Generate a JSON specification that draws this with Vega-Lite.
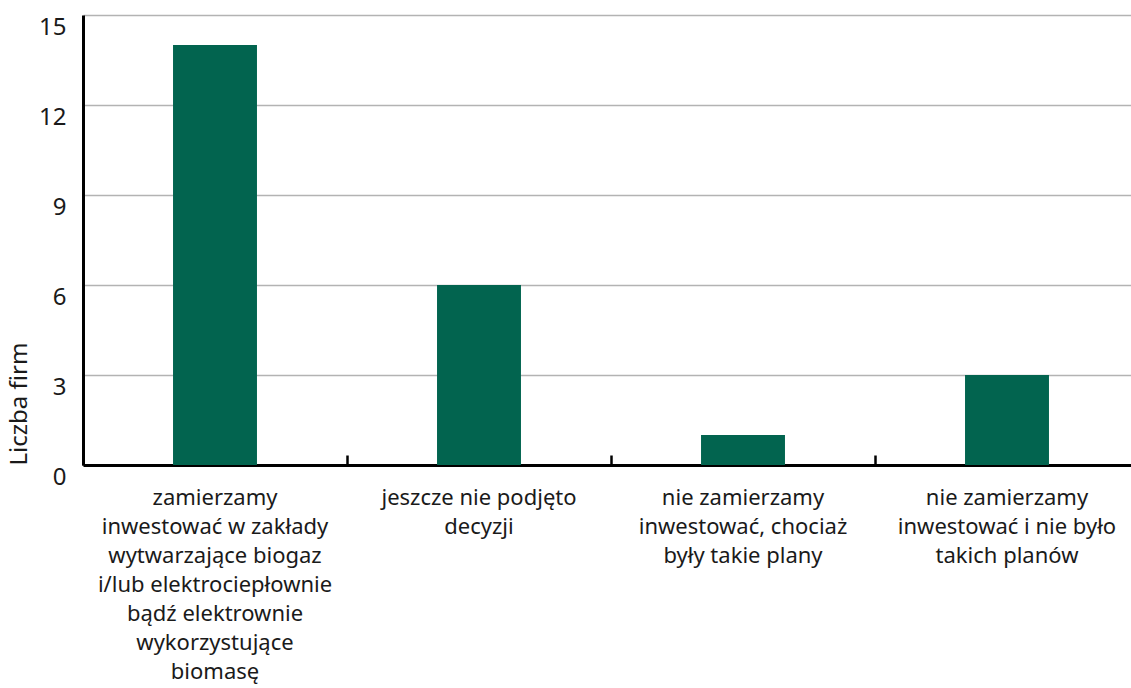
{
  "$schema": "https://vega.github.io/schema/vega-lite/v6.json",
  "width": 1048,
  "height": 450,
  "autosize": {"type": "none"},
  "padding": {"left": 83, "top": 15, "right": 0, "bottom": 223},
  "background": "white",
  "config": {
    "view": {"stroke": null},
    "font": "Noto Sans"
  },
  "data": {
    "values": [
      {"kategoria": "zamierzamy|inwestować w zakłady|wytwarzające biogaz|i/lub elektrociepłownie|bądź elektrownie|wykorzystujące|biomasę", "liczba": 14},
      {"kategoria": "jeszcze nie podjęto|decyzji", "liczba": 6},
      {"kategoria": "nie zamierzamy|inwestować, chociaż|były takie plany", "liczba": 1},
      {"kategoria": "nie zamierzamy|inwestować i nie było|takich planów", "liczba": 3}
    ]
  },
  "mark": {"type": "bar", "color": "#02644F", "width": {"band": 0.318}},
  "encoding": {
    "x": {
      "field": "kategoria",
      "type": "nominal",
      "sort": null,
      "scale": {"range": [0, 1056], "paddingInner": 0, "paddingOuter": 0},
      "axis": {
        "title": null,
        "bandPosition": 0,
        "labelAngle": 0,
        "labelExpr": "split(datum.label, '|')",
        "labelFontSize": 22,
        "labelColor": "#1a1a1a",
        "labelLineHeight": 29,
        "labelBaseline": "top",
        "labelPadding": 32,
        "labelLimit": 400,
        "domainColor": "black",
        "domainWidth": 3,
        "ticks": true,
        "tickSize": -10,
        "tickWidth": 2.5,
        "tickColor": "black",
        "grid": false
      }
    },
    "y": {
      "field": "liczba",
      "type": "quantitative",
      "scale": {"domain": [0, 15], "nice": false},
      "axis": {
        "title": "Liczba firm",
        "titleFontSize": 24,
        "titleFontWeight": "normal",
        "titleColor": "#1a1a1a",
        "titleAnchor": "start",
        "titlePadding": 7,
        "values": [0, 3, 6, 9, 12, 15],
        "labelFontSize": 24,
        "labelColor": "#1a1a1a",
        "labelBaseline": "top",
        "labelPadding": 17,
        "ticks": false,
        "domainColor": "black",
        "domainWidth": 3,
        "grid": true,
        "gridColor": "#b3b3b3",
        "gridWidth": 1.5
      }
    }
  }
}
